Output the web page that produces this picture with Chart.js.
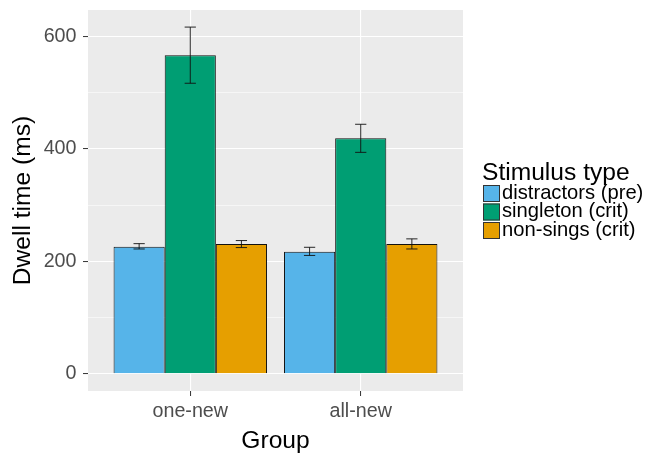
<!DOCTYPE html>
<html>
<head>
<meta charset="utf-8">
<script src="https://cdn.jsdelivr.net/npm/chart.js@4"></script>
<style>
  html, body { margin: 0; padding: 0; background: #fff; }
  #wrap { width: 646px; height: 455px; }
</style>
</head>
<body>
<div id="wrap"><canvas id="dwell" width="646" height="455"></canvas></div>
<script>
// Data
const groups = ['one-new', 'all-new'];
const stimulusTypes = ['distractors (pre)', 'singleton (crit)', 'non-sings (crit)'];
const distractorsMean = [226, 217];
const singletonMean = [567, 419];
const nonSingsMean = [231, 231];
const distractorsLow = [222, 210.5];
const distractorsHigh = [231.5, 225];
const singletonLow = [517, 394];
const singletonHigh = [617, 444];
const nonSingsLow = [224.5, 222];
const nonSingsHigh = [237, 240];
const yTicks = [0, 100, 200, 300, 400, 500, 600];

const fillColors = ['#56B4E9', '#009E73', '#E69F00'];
const FONT = '"Liberation Sans", Arial, sans-serif';

const means = [distractorsMean, singletonMean, nonSingsMean];
const lows = [distractorsLow, singletonLow, nonSingsLow];
const highs = [distractorsHigh, singletonHigh, nonSingsHigh];

const datasets = stimulusTypes.map((name, k) => ({
    label: name,
    data: groups.map((g, i) => ({x: i + 1, y: means[k][i]})),
    backgroundColor: fillColors[k],
    borderColor: '#111',
    borderWidth: 1,
    categoryPercentage: 0.9,
    barPercentage: 1.0
}));

// grey panel behind the plot
const panelBg = {
    id: 'panelBg',
    beforeDraw(chart) {
        const {ctx, chartArea: a} = chart;
        ctx.save();
        ctx.fillStyle = '#EBEBEB';
        ctx.fillRect(a.left, a.top, a.right - a.left, a.bottom - a.top);
        ctx.restore();
    }
};

// error bars
const errorBars = {
    id: 'errorBars',
    afterDatasetsDraw(chart) {
        const ctx = chart.ctx;
        const y = chart.scales.y;
        ctx.save();
        ctx.strokeStyle = '#111';
        ctx.lineWidth = 0.9;
        chart.data.datasets.forEach((ds, k) => {
            chart.getDatasetMeta(k).data.forEach((bar, i) => {
                const yl = y.getPixelForValue(lows[k][i]);
                const yh = y.getPixelForValue(highs[k][i]);
                const half = bar.width * 0.11;
                ctx.beginPath();
                ctx.moveTo(bar.x, yl); ctx.lineTo(bar.x, yh);
                ctx.moveTo(bar.x - half, yl); ctx.lineTo(bar.x + half, yl);
                ctx.moveTo(bar.x - half, yh); ctx.lineTo(bar.x + half, yh);
                ctx.stroke();
            });
        });
        ctx.restore();
    }
};

// ggplot style legend on the right
const sideLegend = {
    id: 'sideLegend',
    afterDraw(chart) {
        const ctx = chart.ctx;
        const x0 = 483, y0 = 185, size = 17, step = 18.5;
        ctx.save();
        ctx.fillStyle = '#000';
        ctx.font = '24.6px ' + FONT;
        ctx.textBaseline = 'alphabetic';
        ctx.fillText('Stimulus type', x0 - 1, 180);
        ctx.font = '20.2px ' + FONT;
        chart.data.datasets.forEach((ds, k) => {
            const ky = y0 + k * step;
            ctx.fillStyle = ds.backgroundColor;
            ctx.fillRect(x0, ky, size, size);
            ctx.strokeStyle = '#333';
            ctx.lineWidth = 1;
            ctx.strokeRect(x0 + 0.5, ky + 0.5, size - 1, size - 1);
            ctx.fillStyle = '#000';
            ctx.fillText(ds.label, x0 + size + 2, ky + 13.5);
        });
        ctx.restore();
    }
};

const config = {
    type: 'bar',
    data: {datasets: datasets},
    options: {
        responsive: false,
        animation: false,
        devicePixelRatio: 1,
        layout: {padding: {top: 10, right: 183, left: 0, bottom: 0}},
        plugins: {legend: {display: false}, tooltip: {enabled: false}},
        scales: {
            x: {
                type: 'linear',
                min: 0.4,
                max: 2.6,
                offset: false,
                afterBuildTicks: (s) => { s.ticks = groups.map((g, i) => ({value: i + 1})); },
                afterFit: (s) => { s.height = 64; s.paddingLeft = 0; s.paddingRight = 0; },
                border: {display: false},
                grid: {offset: false, color: '#fff', lineWidth: 1.1, tickColor: '#333', tickLength: 5, tickWidth: 1},
                ticks: {
                    callback: (v) => groups[v - 1],
                    color: '#4D4D4D',
                    font: {family: FONT, size: 19.7},
                    padding: 4,
                    maxRotation: 0,
                    autoSkip: false
                },
                title: {
                    display: true,
                    text: 'Group',
                    color: '#000',
                    font: {family: FONT, size: 24.6, lineHeight: 1.1},
                    padding: {top: 0, bottom: 0}
                }
            },
            y: {
                min: -30.8,
                max: 647.4,
                afterBuildTicks: (s) => { s.ticks = yTicks.map(v => ({value: v})); },
                afterFit: (s) => { s.width = 88; s.paddingTop = 0; s.paddingBottom = 0; },
                border: {display: false},
                grid: {
                    color: '#fff',
                    lineWidth: (c) => (c.tick && c.tick.value % 200 === 0) ? 1.1 : 0.55,
                    tickColor: (c) => (c.tick && c.tick.value % 200 === 0) ? '#333' : 'rgba(0,0,0,0)',
                    tickLength: 5,
                    tickWidth: 1
                },
                ticks: {
                    callback: (v) => v % 200 === 0 ? v : '',
                    color: '#4D4D4D',
                    font: {family: FONT, size: 19.7},
                    padding: 6.5,
                    autoSkip: false
                },
                title: {
                    display: true,
                    text: 'Dwell time (ms)',
                    color: '#000',
                    font: {family: FONT, size: 24.6, lineHeight: 1.2},
                    padding: {top: 8, bottom: 0}
                }
            }
        }
    },
    plugins: [panelBg, errorBars, sideLegend]
};

const dwellChart = new Chart(document.getElementById('dwell'), config);
</script>
</body>
</html>
